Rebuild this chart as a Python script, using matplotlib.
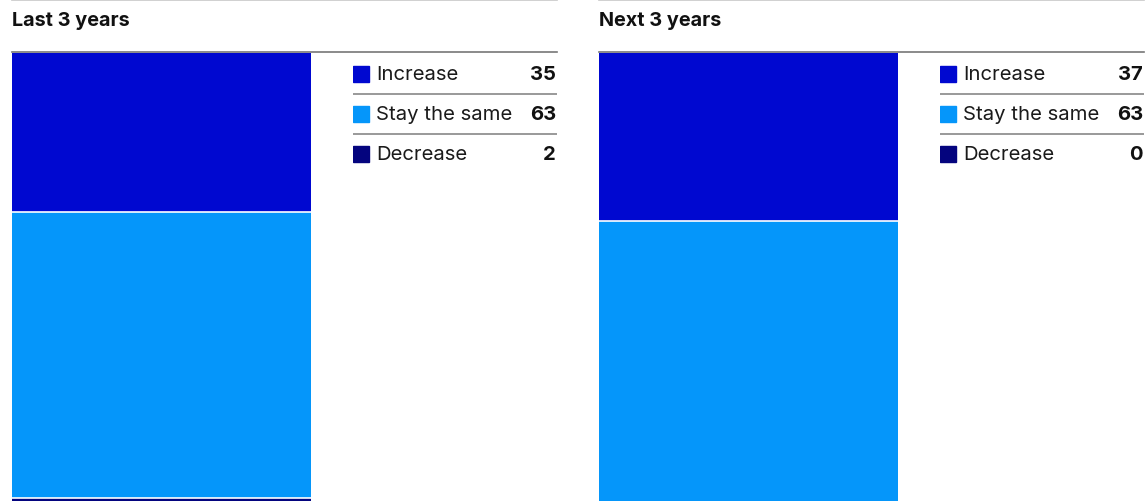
import matplotlib.pyplot as plt
from matplotlib.patches import Rectangle

plt.rcParams['font.family'] = ['Inter', 'DejaVu Sans']

panels = ['Last 3 years', 'Next 3 years']
categories = ['Increase', 'Stay the same', 'Decrease']
values = {
    'Last 3 years': [35, 63, 2],
    'Next 3 years': [37, 63, 0],
}
colors = ['#0008D0', '#0596FA', '#04047E']

W, H = 1145, 502
fig = plt.figure(figsize=(W / 100, H / 100), dpi=100)


def fx(px):
    return px / W


def fy(py):
    return 1 - py / H


offsets = [12, 599]
for name, x0 in zip(panels, offsets):
    x1 = x0 + 545
    # top rule and title
    fig.add_artist(plt.Line2D([fx(x0), fx(min(x1, W))], [fy(0.5), fy(0.5)],
                              color='#c8c8c8', lw=1.2))
    fig.text(fx(x0), fy(21), name, fontsize=14.3, fontweight='bold',
             va='center', ha='left', color='#111111')

    # stacked bar (extends past the bottom edge, as in the source)
    ax = fig.add_axes([fx(x0), fy(508), fx(299), (508 - 53.5) / H])
    bottom = 0
    for v, c in zip(values[name], colors):
        ax.bar(0, v, bottom=bottom, width=1, color=c, linewidth=0)
        bottom += v
        if 0 < bottom < 100:
            ax.axhline(bottom, color='white', lw=1.2)
    ax.set_xlim(-0.5, 0.5)
    ax.set_ylim(100, 0)
    ax.axis('off')

    fig.add_artist(plt.Line2D([fx(x0), fx(min(x1, W))], [fy(53), fy(53)],
                              color='#777777', lw=1.2))

    # legend with values
    lx = x0 + 341
    lg = fig.add_axes([fx(lx), fy(174), fx(204), 120 / H])
    lg.set_xlim(0, 204)
    lg.set_ylim(120, 0)
    lg.axis('off')
    for i, (cat, v, c) in enumerate(zip(categories, values[name], colors)):
        yc = 21 + 40 * i
        lg.add_patch(Rectangle((0, yc - 8), 16, 16, color=c))
        lg.text(23, yc, cat, fontsize=14.6, va='center', ha='left',
                color='#1a1a1a')
        lg.text(203, yc, str(v), fontsize=14.6, fontweight='bold',
                va='center', ha='right', color='#111111')
        if i < 2:
            lg.plot([0, 204], [yc + 20, yc + 20], color='#888888', lw=1.2)

fig.savefig('out.png', dpi=100)
